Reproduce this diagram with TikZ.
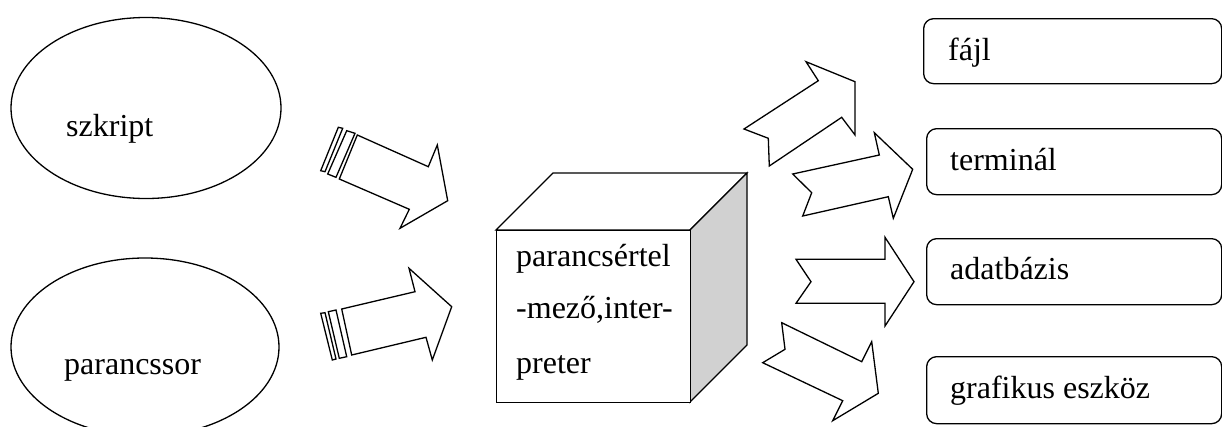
\documentclass[tikz,border=0pt]{standalone}
\usepackage{fontspec}
\setmainfont{Liberation Serif}
\usetikzlibrary{shapes.geometric}

\tikzset{
  outline/.style={draw=black, line width=1.3pt, line join=miter},
  blockarrow/.style={outline, fill=white},
  source/.style={ellipse, outline, inner sep=0pt},
  target/.style={rectangle, outline, rounded corners=10pt, inner sep=0pt, anchor=north west},
  label/.style={anchor=base west, inner sep=0pt, font=\fontsize{32}{38}\selectfont},
}

\begin{document}
\begin{tikzpicture}[x=1pt, y=-1pt]
  \useasboundingbox (0,0) rectangle (1222,426);
  \clip (0,0) rectangle (1222,426);

  % sources
  \node[source, minimum width=270pt, minimum height=181pt] (szkript) at (146,108) {};
  \node[label] (szkriptText) at (66,136) {szkript};
  \node[source, minimum width=268pt, minimum height=178pt] (parancssor) at (145,347) {};
  \node[label] (parancssorText) at (64,374) {parancssor};

  % striped arrow: szkript -> interpreter
  \draw[blockarrow] (338.3,127.3) -- (342.7,128.3) -- (325,171.7) -- (320.7,170.7) -- cycle;
  \draw[blockarrow] (346.7,130.7) -- (355,133.3) -- (336,177.3) -- (327.7,174) -- cycle;
  \draw[blockarrow] (357.3,135) -- (428.3,166.7) -- (437.3,145) -- (447.7,200.7)
        -- (400,228.3) -- (409.3,209.3) -- (339.3,179) -- cycle;

  % striped arrow: parancssor -> interpreter
  \draw[blockarrow] (320.7,313.3) -- (325,312.7) -- (336,359) -- (332.3,360) -- cycle;
  \draw[blockarrow] (328.3,311.7) -- (336,310) -- (346.7,356.7) -- (339.3,358.3) -- cycle;
  \draw[blockarrow] (341.7,309) -- (415,291.7) -- (409,268.3) -- (451.7,306.7)
        -- (432.3,360) -- (426,337.3) -- (351.7,355) -- cycle;

  % interpreter cube
  \draw[outline, fill=white] (496,230) -- (553,173) -- (747,173) -- (690,230) -- cycle;
  \draw[outline, fill=black!18] (690,230) -- (747,173) -- (747,345) -- (690,402) -- cycle;
  \node[rectangle, outline, fill=white, anchor=north west, inner sep=0pt,
        minimum width=194pt, minimum height=172pt] (interp) at (496,230) {};
  \node[label] (interpA) at (516,266) {parancsértel};
  \node[label] (interpB) at (516,318) {-mező,inter-};
  \node[label] (interpC) at (516,373) {preter};

  % notched arrows: interpreter -> targets
  \draw[blockarrow] (744,129) -- (818.3,80.7) -- (806,61.7) -- (855,81.7) -- (855,135)
        -- (841.7,117.3) -- (769.3,166) -- (768.3,138.3) -- cycle;
  \draw[blockarrow] (792.7,174) -- (879.3,155) -- (874.3,132.7) -- (912.7,169.3) -- (893.3,218.3)
        -- (888.3,196.7) -- (802.7,216) -- (811.7,192.7) -- cycle;
  \draw[blockarrow] (796,259.3) -- (885,259.3) -- (885,237.3) -- (914,281.7) -- (885,326)
        -- (885,303.3) -- (796,303.3) -- (811,281.7) -- cycle;
  \draw[blockarrow] (781.7,322.7) -- (861.7,361.7) -- (871.7,341.7) -- (878.3,393.3) -- (832.7,420.7)
        -- (842.7,400.7) -- (762.7,362.7) -- (785,349.3) -- cycle;

  % targets
  \node[target, minimum width=298pt, minimum height=65pt] (fajl) at (923,18) {};
  \node[label] (fajlText) at (948,60) {fájl};
  \node[target, minimum width=295pt, minimum height=66pt] (terminal) at (926,128) {};
  \node[label] (terminalText) at (950,170) {terminál};
  \node[target, minimum width=295pt, minimum height=66pt] (adatbazis) at (926,238) {};
  \node[label] (adatbazisText) at (950,279) {adatbázis};
  \node[target, minimum width=295pt, minimum height=67pt] (grafikus) at (926,356) {};
  \node[label] (grafikusText) at (950,398) {grafikus eszköz};
\end{tikzpicture}
\end{document}
